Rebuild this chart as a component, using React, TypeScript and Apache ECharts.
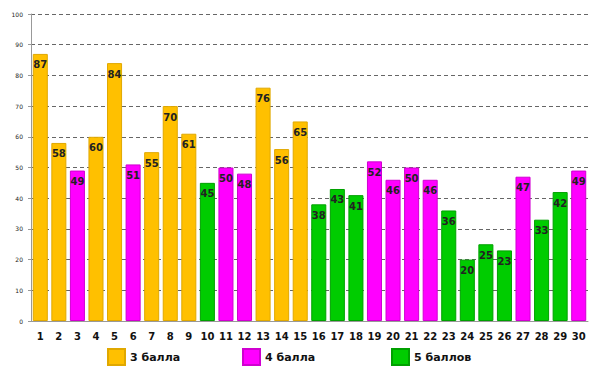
import React, { useEffect, useRef } from "react";
import * as echarts from "echarts";

const categories = Array.from({ length: 30 }, (_, i) => String(i + 1));
const values = [87, 58, 49, 60, 84, 51, 55, 70, 61, 45, 50, 48, 76, 56, 65, 38, 43, 41, 52, 46, 50, 46, 36, 20, 25, 23, 47, 33, 42, 49];
const grades = [3, 3, 4, 3, 3, 4, 3, 3, 3, 5, 4, 4, 3, 3, 3, 5, 5, 5, 4, 4, 4, 4, 5, 5, 5, 5, 4, 5, 5, 4];
const seriesNames = ["3 балла", "4 балла", "5 баллов"];
const seriesGrades = [3, 4, 5];
const colors = ["#FFC000", "#FF00FF", "#00CC00"];
const borders = ["#E0A800", "#D000D0", "#00A000"];
const legendLefts = [94, 229, 378];

export default function App() {
  const ref = useRef<HTMLDivElement>(null);
  useEffect(() => {
    if (!ref.current) return;
    const chart = echarts.init(ref.current, null, { renderer: "svg" });
    chart.setOption({
      animation: false,
      backgroundColor: "#fff",
      textStyle: { fontFamily: "DejaVu Sans" },
      grid: { left: 23, right: 4, top: 6, bottom: 58 },
      legend: seriesNames.map((n, i) => ({
        bottom: 8,
        left: legendLefts[i],
        itemWidth: 17,
        itemHeight: 16,
        icon: "rect",
        textStyle: { fontSize: 11, fontWeight: "bold", color: "#111", fontFamily: "DejaVu Sans" },
        data: [n],
      })),
      xAxis: {
        type: "category",
        data: categories,
        axisLine: { lineStyle: { color: "#999" } },
        axisTick: { lineStyle: { color: "#999" }, length: 4 },
        axisLabel: { fontSize: 10, fontWeight: "bold", color: "#111", margin: 10, interval: 0 },
      },
      yAxis: {
        type: "value",
        min: 0,
        max: 100,
        interval: 10,
        axisLine: { show: true, lineStyle: { color: "#999" } },
        axisTick: { show: true, length: 3, lineStyle: { color: "#999" } },
        axisLabel: { fontSize: 6, color: "#222", margin: 8 },
        splitLine: { lineStyle: { color: "#666", type: [4, 3], width: 1 } },
      },
      series: seriesNames.map((name, s) => ({
        name,
        type: "bar",
        stack: "all",
        barCategoryGap: "19%",
        itemStyle: { color: colors[s], borderColor: borders[s], borderWidth: 1 },
        label: {
          show: true,
          position: "insideTop",
          distance: 6,
          fontSize: 10,
          fontWeight: "bold",
          color: "#222",
        },
        data: values.map((v, i) => (grades[i] === seriesGrades[s] ? v : "-")),
      })),
    });
    return () => chart.dispose();
  }, []);
  return <div ref={ref} style={{ width: 584, height: 371 }} />;
}
